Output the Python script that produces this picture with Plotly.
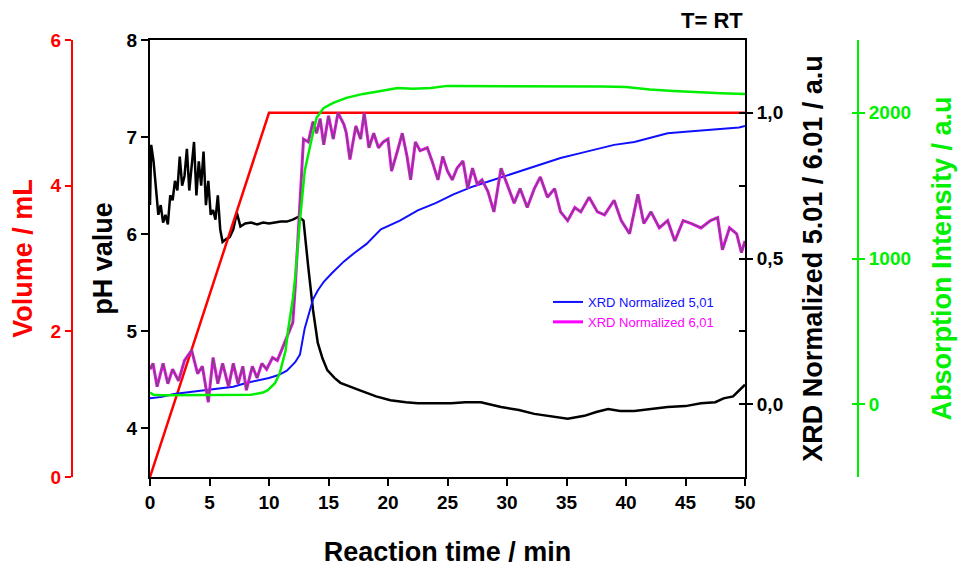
import plotly.graph_objects as go

# ---------------- data ----------------
vol_t = [0, 10, 50]
vol_v = [0, 5, 5]

ph_t = [0, 0.1, 0.3, 0.5, 0.7, 0.9, 1.1, 1.3, 1.5, 1.7, 1.9, 2.1, 2.3, 2.5, 2.7, 2.9, 3.1, 3.3, 3.5, 3.7,
        3.9, 4.1, 4.3, 4.5, 4.7, 4.9, 5.1, 5.3, 5.5, 5.7, 5.9, 6.1, 6.4, 6.7, 7.0, 7.3, 7.6, 8.0, 8.5, 9.0,
        9.5, 10.0, 10.5, 11.0, 11.5, 12.0, 12.5, 12.9, 13.3, 13.7, 14.1, 14.5, 14.9, 15.5, 16.0, 17.0, 17.7,
        19.0, 20.2, 21.5, 22.5, 24.0, 25.3, 26.5, 27.8, 29.5, 31.0, 32.3, 33.5, 35.1, 36.5, 37.5, 38.5, 39.5,
        40.7, 42.0, 43.5, 45.0, 46.3, 47.5, 48.2, 49.0, 49.7, 50.0]
ph_v = [6.3, 6.92, 6.75, 6.5, 6.2, 6.3, 6.12, 6.2, 6.1, 6.4, 6.35, 6.55, 6.45, 6.8, 6.5, 6.6, 6.88, 6.45, 6.7, 6.95,
        6.4, 6.75, 6.5, 6.85, 6.3, 6.55, 6.2, 6.25, 6.15, 6.4, 6.05, 5.92, 5.95, 5.97, 6.05, 6.22, 6.08, 6.11, 6.12, 6.1,
        6.12, 6.11, 6.12, 6.13, 6.13, 6.15, 6.18, 6.14, 5.66, 5.22, 4.88, 4.72, 4.6, 4.52, 4.47, 4.42, 4.39,
        4.33, 4.29, 4.27, 4.26, 4.26, 4.26, 4.27, 4.27, 4.22, 4.19, 4.15, 4.13, 4.1, 4.13, 4.17, 4.2, 4.18,
        4.18, 4.2, 4.22, 4.23, 4.26, 4.27, 4.31, 4.33, 4.42, 4.45]

xrd5_t = [0, 1, 2, 3, 4, 5, 6, 7, 8, 9, 10, 10.8, 11.5, 12.2, 12.6, 13.0, 13.4, 13.7, 14.1, 14.6, 15.3, 16.3,
          17.2, 18.2, 19.4, 21, 22.5, 24, 25.5, 27, 28.5, 30, 31.5, 33, 34.5, 36, 37.5, 39, 40.7, 42, 43.5, 45,
          46.3, 48, 49.5, 50]
xrd5_v = [0.02, 0.025, 0.035, 0.04, 0.045, 0.048, 0.055, 0.06, 0.072, 0.08, 0.09, 0.1, 0.115, 0.144, 0.17, 0.26,
          0.32, 0.36, 0.39, 0.42, 0.45, 0.49, 0.52, 0.55, 0.6, 0.63, 0.665, 0.69, 0.72, 0.745, 0.765, 0.785, 0.805,
          0.825, 0.845, 0.86, 0.875, 0.89, 0.9, 0.915, 0.93, 0.935, 0.94, 0.945, 0.95, 0.955]

xrd6_t = [0, 0.25, 0.6, 1.1, 1.5, 1.9, 2.4, 2.9, 3.5, 4.0, 4.4, 4.9, 5.3, 5.7, 6.1, 6.6, 7.0, 7.4, 7.8, 8.1, 8.6,
          9.0, 9.4, 9.8, 10.3, 10.7, 11.1, 11.5, 12.0, 12.2, 12.4, 12.6, 12.9, 13.3, 13.7, 14.0, 14.3, 14.6, 15.0,
          15.4, 15.8, 16.3, 16.5, 16.8, 17.3, 17.7, 18.0, 18.4, 18.8, 19.2, 19.6, 20.0, 20.3, 20.8, 21.2, 21.6,
          21.9, 22.3, 22.7, 23.3, 23.7, 24.2, 24.6, 25.0, 25.4, 25.8, 26.3, 26.7, 27.1, 27.5, 27.9, 28.4, 28.9,
          29.5, 30.0, 30.6, 31.1, 31.7, 32.3, 32.8, 33.4, 34.0, 34.5, 35.1, 35.7, 36.2, 36.9, 37.6, 38.2, 39.0,
          39.6, 40.3, 41.0, 41.5, 42.1, 42.8, 43.5, 44.1, 44.8, 45.5, 46.3, 47.1, 47.7, 48.1, 48.7, 49.3, 49.7, 50.0]
xrd6_v = [0.12, 0.14, 0.06, 0.14, 0.07, 0.12, 0.08, 0.15, 0.185, 0.105, 0.13, 0.007, 0.16, 0.07, 0.14, 0.06, 0.14,
          0.07, 0.13, 0.048, 0.13, 0.09, 0.14, 0.12, 0.16, 0.15, 0.19, 0.23, 0.28, 0.40, 0.55, 0.69, 0.91, 0.90,
          0.97, 0.93, 0.98, 0.89, 0.99, 0.91, 1.0, 0.96, 0.93, 0.84, 0.955, 0.91, 1.0, 0.88, 0.93, 0.88, 0.90, 0.91,
          0.80, 0.87, 0.93, 0.85, 0.77, 0.90, 0.87, 0.88, 0.835, 0.77, 0.85, 0.80, 0.77, 0.81, 0.835, 0.74, 0.81,
          0.755, 0.77, 0.73, 0.66, 0.81, 0.755, 0.69, 0.74, 0.675, 0.74, 0.78, 0.71, 0.74, 0.66, 0.63, 0.675, 0.66,
          0.71, 0.66, 0.65, 0.70, 0.63, 0.585, 0.72, 0.62, 0.66, 0.605, 0.63, 0.56, 0.63, 0.62, 0.605, 0.63, 0.64,
          0.53, 0.605, 0.585, 0.52, 0.56]

abs_t = [0, 0.3, 1, 3, 5, 7, 8.5, 9.5, 9.9, 10.5, 10.9, 11.4, 11.6, 12.0, 12.2, 12.6, 13.0, 13.5, 14.0, 14.6,
         15.4, 16.5, 17.9, 19.4, 20.8, 22.1, 23.6, 25, 30, 35, 38, 40, 42, 44, 46, 48, 50]
abs_v = [80, 65, 62, 62, 62, 62, 65, 80, 96, 144, 212, 370, 507, 720, 870, 1260, 1600, 1790, 1966, 2034,
         2068, 2103, 2130, 2150, 2171, 2165, 2171, 2185, 2185, 2185, 2180, 2178, 2160, 2150, 2140, 2135, 2130]

x_ticks = [0, 5, 10, 15, 20, 25, 30, 35, 40, 45, 50]
ph_ticks = [4, 5, 6, 7, 8]
vol_ticks = [0, 2, 4, 6]
xrd_ticks = [0.0, 0.5, 1.0]
xrd_ticklabels = ["0,0", "0,5", "1,0"]
xrd_minor = [-0.25, 0, 0.25, 0.5, 0.75, 1.0, 1.25]
abs_ticks = [0, 1000, 2000]

# ---------------- figure ----------------
W, H = 959, 567
FONT = "Liberation Sans, Arial, sans-serif"
RED, GREEN, BLUE, MAG = "#ff0000", "#00ee00", "#1010ff", "#ff00ff"

x0, x1 = 150 / W, 745 / W
y0, y1 = (H - 477) / H, (H - 40) / H

fig = go.Figure()
fig.add_trace(go.Scatter(x=abs_t, y=abs_v, yaxis="y5", mode="lines",
                         line=dict(color=GREEN, width=2.5), showlegend=False))
fig.add_trace(go.Scatter(x=vol_t, y=vol_v, yaxis="y2", mode="lines",
                         line=dict(color=RED, width=2.5), showlegend=False))
fig.add_trace(go.Scatter(x=xrd5_t, y=xrd5_v, yaxis="y3", mode="lines",
                         line=dict(color=BLUE, width=2),
                         name="<span style='color:#1010ff'>XRD Normalized 5,01</span>"))
fig.add_trace(go.Scatter(x=xrd6_t, y=xrd6_v, yaxis="y3", mode="lines",
                         line=dict(color=MAG, width=3),
                         name="<span style='color:#ff00ff'>XRD Normalized 6,01</span>"))
fig.add_trace(go.Scatter(x=xrd6_t, y=xrd6_v, yaxis="y3", mode="lines",
                         line=dict(color="#5a5a5a", width=1.2), showlegend=False))
fig.add_trace(go.Scatter(x=ph_t, y=ph_v, yaxis="y", mode="lines",
                         line=dict(color="black", width=2.5), showlegend=False))

tick_font = dict(family=FONT, size=19, color="black", weight="bold")
title_font = dict(family=FONT, size=27, color="black", weight="bold")

fig.update_layout(
    width=W, height=H, template="none",
    margin=dict(l=0, r=0, t=0, b=0),
    paper_bgcolor="white", plot_bgcolor="white",
    showlegend=True,
    legend=dict(x=548 / W, y=(H - 287) / H, xanchor="left", yanchor="top",
                bgcolor="rgba(0,0,0,0)", font=dict(family=FONT, size=13),
                itemwidth=30, tracegroupgap=0),
    xaxis=dict(domain=[x0, x1], range=[0, 50], tickvals=x_ticks, ticks="outside", ticklen=7,
               tickwidth=2, tickcolor="black", showline=True, linewidth=2, linecolor="black",
               mirror=True, showgrid=False, zeroline=False, tickfont=tick_font,
               title=dict(text="Reaction time / min", font=title_font, standoff=30),
               automargin=False),
    yaxis=dict(domain=[y0, y1], range=[3.5, 8], tickvals=ph_ticks, ticks="outside", ticklen=7,
               tickwidth=2, tickcolor="black", showline=True, linewidth=2, linecolor="black",
               showgrid=False, zeroline=False, tickfont=tick_font,
               title=dict(text="pH value", font=title_font, standoff=6), automargin=False),
    yaxis2=dict(overlaying="y", anchor="free", position=72 / W, side="left", range=[0, 6],
                tickvals=vol_ticks, ticks="outside", ticklen=6, tickwidth=2, tickcolor=RED,
                showline=True, linewidth=2, linecolor=RED, showgrid=False, zeroline=False,
                tickfont=dict(family=FONT, size=19, color=RED, weight="bold"),
                title=dict(text="Volume / mL", font=dict(family=FONT, size=27, color=RED, weight="bold"),
                           standoff=9), automargin=False),
    yaxis3=dict(overlaying="y", anchor="x", side="right", range=[-0.25, 1.25],
                tickvals=xrd_ticks, ticktext=xrd_ticklabels, ticks="outside", ticklen=6, tickwidth=2,
                tickcolor="black", showline=True, linewidth=2, linecolor="black", showgrid=False,
                zeroline=False, tickfont=tick_font,
                title=dict(text="XRD Normalized 5.01 / 6.01 / a.u", font=title_font, standoff=20),
                automargin=False),
    yaxis4=dict(overlaying="y", anchor="x", side="right", range=[-0.25, 1.25],
                tickvals=xrd_minor, ticks="inside", ticklen=6, tickwidth=2, tickcolor="black",
                showticklabels=False, showline=False, showgrid=False, zeroline=False),
    yaxis5=dict(overlaying="y", anchor="free", position=858 / W, side="right", range=[-500, 2500],
                tickvals=abs_ticks, ticks="outside", ticklen=6, tickwidth=2, tickcolor=GREEN,
                showline=True, linewidth=2, linecolor=GREEN, showgrid=False, zeroline=False,
                tickfont=dict(family=FONT, size=19, color=GREEN, weight="bold"),
                title=dict(text="Absorption Intensity / a.u",
                           font=dict(family=FONT, size=27, color=GREEN, weight="bold"), standoff=21),
                automargin=False),
    yaxis6=dict(overlaying="y", anchor="free", position=858 / W, side="right", range=[-500, 2500],
                tickvals=abs_ticks, ticks="inside", ticklen=6, tickwidth=2, tickcolor=GREEN,
                showticklabels=False, showline=False, showgrid=False, zeroline=False),
)

# placeholder traces so the tick-only axes render
fig.add_trace(go.Scatter(x=[None], y=[None], yaxis="y4", showlegend=False))
fig.add_trace(go.Scatter(x=[None], y=[None], yaxis="y6", showlegend=False))

fig.add_annotation(text="<b>T= RT</b>", xref="paper", yref="paper", x=745 / W, y=(H - 20) / H,
                   xanchor="right", yanchor="middle", showarrow=False,
                   font=dict(family=FONT, size=22, color="black"))

fig.write_html("out.html")
